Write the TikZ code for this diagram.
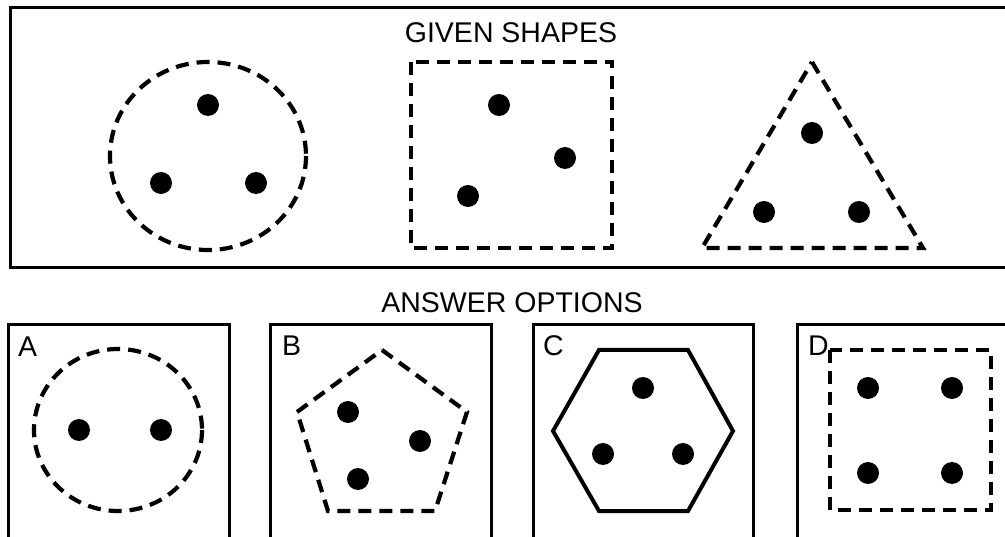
\documentclass[tikz,border=0pt]{standalone}
\usepackage{fontspec}
\setmainfont{Liberation Sans}
\usetikzlibrary{positioning}

\begin{document}
\begin{tikzpicture}[x=1pt, y=-1pt, line join=miter,
    frame/.style={draw, line width=3pt},
    outline/.style={draw, line width=4.2pt, dash pattern=on 13pt off 8pt},
    solidline/.style={draw, line width=4pt},
    title/.style={anchor=base, font=\fontsize{28.5}{32}\selectfont},
    tag/.style={anchor=base west, font=\fontsize{28.5}{32}\selectfont, inner sep=0pt}]
    \clip (0,0) rectangle (1005,537);
    % given shapes
    \draw[frame] (10,8) rectangle (1015,268);
    \node[title] (given) at (511,43) {GIVEN SHAPES};
    \draw[outline] (208,156) ellipse [x radius=98, y radius=94];
    \draw[outline] (411,62) rectangle (612,248);
    \draw[outline] (812,62) -- (923,248) -- (702,248) -- cycle;
    \foreach \p in {(208,105),(161,183),(256,183),
                    (499,105),(565,158),(468,196),
                    (812,133),(764,212),(859,212)}
        \fill \p circle [radius=11];
    % answer options
    \node[title] (answers) at (512,313) {ANSWER OPTIONS};
    \draw[frame] (8,325) rectangle (229,545);
    \draw[frame] (270,325) rectangle (491,545);
    \draw[frame] (533,325) rectangle (753,545);
    \draw[frame] (797,325) rectangle (1015,545);
    \node[tag] (optA) at (18,357) {A};
    \node[tag] (optB) at (282,356) {B};
    \node[tag] (optC) at (543,356) {C};
    \node[tag] (optD) at (808,356) {D};
    \draw[outline] (118,430) ellipse [x radius=84, y radius=81];
    \draw[outline] (382,350) -- (467,412) -- (435,511) -- (328,511) -- (297,412) -- cycle;
    \draw[solidline] (599,350) -- (688,350) -- (733,431) -- (688,511) -- (599,511) -- (553,431) -- cycle;
    \draw[outline] (830,350) rectangle (991,510);
    \foreach \p in {(79,430),(161,430),
                    (348,412),(420,441),(358,479),
                    (643,388),(603,454),(683,454),
                    (868,388),(952,388),(868,473),(952,473)}
        \fill \p circle [radius=11];
\end{tikzpicture}
\end{document}
